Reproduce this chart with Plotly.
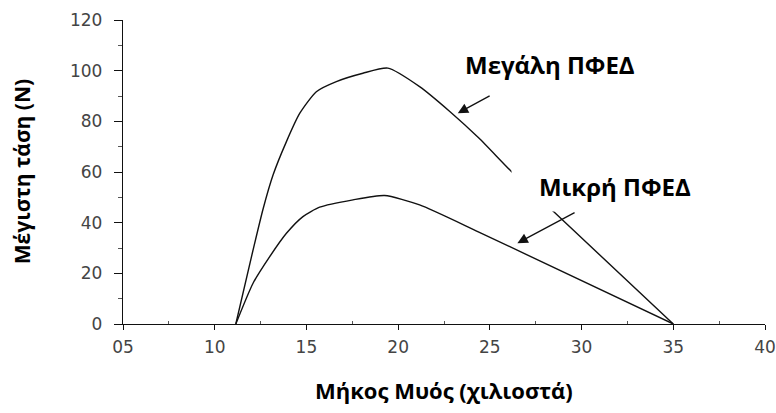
import plotly.graph_objects as go

# Data
large_x = [11.15, 12.09, 12.64, 13.18, 13.91, 14.64, 15.54, 16.63, 18.08, 19.44,
           21.17, 22.8, 24.4, 26.2, 28.5, 35.0]
large_y = [0.0, 29.2, 45.5, 58.8, 72.0, 83.2, 91.7, 95.7, 99.0, 101.0,
           93.7, 84.0, 73.4, 60.0, 44.2, 0.0]
small_x = [11.15, 12.09, 13.0, 13.91, 14.81, 15.72, 17.54, 19.26, 21.17, 24.4, 35.0]
small_y = [0.0, 16.1, 26.6, 35.8, 42.4, 46.1, 49.0, 50.7, 47.0, 36.3, 0.0]

x_tick_vals = [5, 10, 15, 20, 25, 30, 35, 40]
x_tick_text = ["05", "10", "15", "20", "25", "30", "35", "40"]
x_minor_vals = [7.5, 12.5, 17.5, 22.5, 27.5, 32.5, 37.5]
y_tick_vals = [0, 20, 40, 60, 80, 100, 120]
y_minor_vals = [10, 30, 50, 70, 90, 110]

label_large = "Μεγάλη ΠΦΕΔ"
label_small = "Μικρή ΠΦΕΔ"
x_title = "Μήκος Μυός (χιλιοστά)"
y_title = "Μέγιστη τάση (N)"

fig = go.Figure()
for xs, ys in ((large_x, large_y), (small_x, small_y)):
    fig.add_trace(go.Scatter(x=xs, y=ys, mode="lines",
                             line=dict(color="#111111", width=1.4, shape="spline", smoothing=0.6),
                             showlegend=False, hoverinfo="skip"))

lab_font = dict(family="Open Sans", size=24, color="#000000")

fig.add_annotation(x=23.25, y=83.2, ax=25.07, ay=90.4, axref="x", ayref="y",
                   xref="x", yref="y", text="", showarrow=True,
                   arrowhead=2, arrowsize=1.6, arrowwidth=1.3, arrowcolor="#111111")
fig.add_annotation(x=26.5, y=31.9, ax=29.7, ay=44.3, axref="x", ayref="y",
                   xref="x", yref="y", text="", showarrow=True,
                   arrowhead=2, arrowsize=1.6, arrowwidth=1.3, arrowcolor="#111111")

fig.add_annotation(x=28.3, y=102.5, xref="x", yref="y", text="<b>%s</b>" % label_large,
                   showarrow=False, font=lab_font)
fig.add_annotation(x=31.84, y=52.7, xref="x", yref="y", text="<b>%s</b>" % label_small,
                   showarrow=False, font=lab_font, bgcolor="#ffffff", borderpad=0,
                   width=206, height=41, valign="top", align="center")

fig.add_annotation(x=0.5, y=-0.217, xref="paper", yref="paper", yanchor="middle",
                   text="<b>%s</b>" % x_title, showarrow=False,
                   font=dict(family="Open Sans", size=22, color="#000000"))
fig.add_annotation(x=-0.157, y=0.5, xref="paper", yref="paper", xanchor="center",
                   text="<b>%s</b>" % y_title, showarrow=False, textangle=-90,
                   font=dict(family="Open Sans", size=21, color="#000000"))

tick_font = dict(family="DejaVu Sans", size=17, color="#444444")

fig.update_xaxes(range=[5, 40], tickvals=x_tick_vals, ticktext=x_tick_text,
                 showline=True, linecolor="#111111", linewidth=1.4,
                 ticks="outside", ticklen=5, tickcolor="#111111", tickwidth=1.2,
                 minor=dict(tickvals=x_minor_vals, ticks="inside", ticklen=3,
                            tickcolor="#555555", tickwidth=1),
                 showgrid=False, zeroline=False, tickfont=tick_font,
                 ticklabelstandoff=2, ticklabeloverflow="allow", automargin=False)
fig.update_yaxes(range=[0, 120], tickvals=y_tick_vals,
                 showline=True, linecolor="#111111", linewidth=1.4,
                 ticks="outside", ticklen=8, tickcolor="#111111", tickwidth=1.2,
                 minor=dict(tickvals=y_minor_vals, ticks="outside", ticklen=4,
                            tickcolor="#555555", tickwidth=1),
                 showgrid=False, zeroline=False, tickfont=tick_font,
                 ticklabelstandoff=8, automargin=False)

fig.update_layout(width=776, height=413, margin=dict(l=123, r=11, t=20, b=89),
                  plot_bgcolor="#ffffff", paper_bgcolor="#ffffff")

fig.write_html("out.html")
